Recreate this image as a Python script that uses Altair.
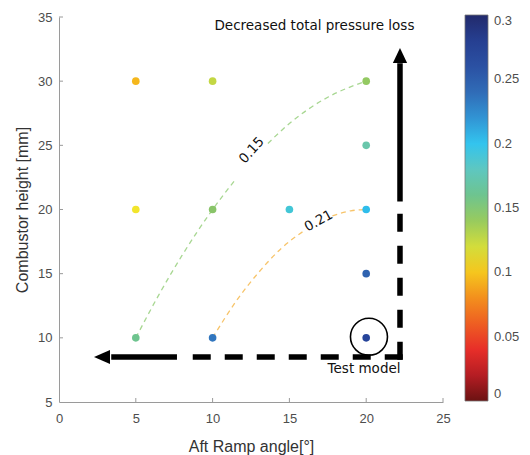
import altair as alt
import pandas as pd

# ---------------- data ----------------
angles = [5, 10, 20, 5, 10, 15, 20, 20, 5, 10, 20, 20]
heights = [30, 30, 30, 20, 20, 20, 20, 25, 10, 10, 15, 10]
loss = [0.095, 0.126, 0.142, 0.11, 0.146, 0.19, 0.203, 0.17, 0.16, 0.235, 0.245, 0.275]

# contour line 0.15 (two pieces, broken by its label)
c15_x = [5, 6.5, 8, 10, 11.4, 13.6, 15, 17.5, 20]
c15_y = [10, 13.35, 16.4, 20, 22.2, 25.15, 26.7, 28.75, 30]
c15_seg = [0, 0, 0, 0, 0, 1, 1, 1, 1]
# contour line 0.21
c21_x = [10, 11.5, 13, 14.5, 15.9, 17.8, 19, 20]
c21_y = [10, 12.8, 15.1, 17.0, 18.3, 19.5, 19.9, 20]
c21_seg = [0, 0, 0, 0, 0, 1, 1, 1]

contour_labels = ["0.15", "0.21"]
contour_lab_x = [12.55, 16.9]
contour_lab_y = [24.6, 19.1]
contour_lab_angle = [312, 331]

# arrows (annotation)
corner_x, corner_y = 22.2, 8.5
h_dash_end, h_solid_end, h_head = 7.68, 3.4, 2.8
v_dash_end, v_solid_end, v_head = 20.63, 31.4, 32.0

circle_x, circle_y = 20.18, 10.08

x_ticks = [0, 5, 10, 15, 20, 25]
y_ticks = [5, 10, 15, 20, 25, 30, 35]
cbar_values = [0, 0.05, 0.1, 0.15, 0.2, 0.25, 0.3]
# colorbar inner tick rows (the colorbar spans the same pixel height as the y axis)
cbar_tick_rows = [10, 15, 20, 25, 30]

cmap_stops = [0, 0.02, 0.035, 0.05, 0.07, 0.09, 0.11, 0.13, 0.15, 0.175, 0.2, 0.225, 0.25, 0.275, 0.3]
cmap_colors = ["#6b1212", "#b51d23", "#e4222a", "#ec4226", "#f07522", "#f4a81e", "#f2e52c",
               "#b8d348", "#80c070", "#6cc6b6", "#33c4ee", "#3688cc", "#2f5aa8", "#26449a", "#222a6c"]

FONT = "Liberation Sans"
ANN_FONT = "DejaVu Sans"

# ---------------- tables ----------------
pts = pd.DataFrame({"angle": angles, "height": heights, "loss": loss})
c15 = pd.DataFrame({"angle": c15_x, "height": c15_y, "seg": c15_seg})
c21 = pd.DataFrame({"angle": c21_x, "height": c21_y, "seg": c21_seg})
clab = pd.DataFrame({"angle": contour_lab_x, "height": contour_lab_y,
                     "txt": contour_labels, "rot": contour_lab_angle})

dashed = pd.DataFrame({
    "angle": [corner_x, h_dash_end, corner_x, corner_x],
    "height": [corner_y, corner_y, corner_y, v_dash_end],
    "seg": ["h", "h", "v", "v"],
    "ord": [0, 1, 0, 1],
})
solid = pd.DataFrame({
    "angle": [h_dash_end, h_solid_end, corner_x, corner_x],
    "height": [corner_y, corner_y, v_dash_end, v_solid_end],
    "seg": ["h", "h", "v", "v"],
    "ord": [0, 1, 0, 1],
})
heads = pd.DataFrame({
    "angle": [h_head, corner_x],
    "height": [corner_y, v_head],
    "shape": ["M-1,0L1,-0.875L1,0.875Z", "M0,-1L0.95,1L-0.95,1Z"],
    "sz": [256, 225],
})
circ = pd.DataFrame({"angle": [circle_x], "height": [circle_y]})
texts = pd.DataFrame({
    "angle": [16.63, 19.86],
    "height": [34.3, 7.55],
    "txt": ["Decreased total pressure loss", "Test model"],
})
xt = pd.DataFrame({"angle": x_ticks[1:]})
yt = pd.DataFrame({"height": y_ticks[1:]})
cbt = pd.DataFrame({"height": cbar_tick_rows})

xscale = alt.Scale(domain=[0, 25], nice=False)
yscale = alt.Scale(domain=[5, 35], nice=False)

X = alt.X("angle:Q", scale=xscale,
          axis=alt.Axis(values=x_ticks, title="Aft Ramp angle[°]", grid=False, ticks=False,
                        labelFlush=False, labelPadding=10, titlePadding=13, format="d"))
Y = alt.Y("height:Q", scale=yscale,
          axis=alt.Axis(values=y_ticks, title="Combustor height [mm]", grid=False, ticks=False,
                        labelFlush=False, labelPadding=7, titlePadding=7, format="d"))
Xs = alt.X("angle:Q", scale=xscale)
Ys = alt.Y("height:Q", scale=yscale)

base_pts = alt.Chart(pts).mark_circle(size=58, opacity=1).encode(
    x=X, y=Y,
    color=alt.Color("loss:Q",
                    scale=alt.Scale(domain=cmap_stops, range=cmap_colors),
                    legend=alt.Legend(orient="none", legendX=406, legendY=-2, direction="vertical",
                                      gradientLength=386, gradientThickness=23,
                                      gradientStrokeColor="#777", gradientStrokeWidth=0.8,
                                      values=cbar_values, format="~g", labelOverlap=False,
                                      labelFont=FONT, labelFontSize=13, labelColor="#4d4d4d",
                                      labelOffset=6, labelBaseline="middle", title=None)),
)

line15 = alt.Chart(c15).mark_line(color="#a8d792", strokeWidth=1.3, strokeDash=[5, 4],
                                  interpolate="monotone").encode(x=Xs, y=Ys, detail="seg:N")
line21 = alt.Chart(c21).mark_line(color="#f7c46a", strokeWidth=1.3, strokeDash=[5, 4],
                                  interpolate="monotone").encode(x=Xs, y=Ys, detail="seg:N")
clabels = alt.Chart(clab).mark_text(font=ANN_FONT, fontSize=13.5, color="#111").encode(
    x=Xs, y=Ys, text="txt:N", angle=alt.Angle("rot:Q", scale=None))

xticks = alt.Chart(xt).mark_rule(color="#9a9a9a", strokeWidth=1).encode(
    x=Xs, y=alt.value(385), y2=alt.value(381))
yticks = alt.Chart(yt).mark_rule(color="#9a9a9a", strokeWidth=1).encode(
    y=Ys, x=alt.value(0), x2=alt.value(4))
cbticks = alt.Chart(cbt).mark_rule(color="#333333", strokeWidth=1).encode(
    y=Ys, x=alt.value(425), x2=alt.value(429))

dash_lines = alt.Chart(dashed).mark_line(color="black", strokeWidth=5.5, strokeDash=[12.5, 19.5],
                                         strokeCap="square").encode(
    x=Xs, y=Ys, detail="seg:N", order="ord:Q")
solid_lines = alt.Chart(solid).mark_line(color="black", strokeWidth=5.5).encode(
    x=Xs, y=Ys, detail="seg:N", order="ord:Q")
arrow_heads = alt.Chart(heads).mark_point(filled=True, color="black", opacity=1, strokeWidth=0).encode(
    x=Xs, y=Ys, shape=alt.Shape("shape:N", scale=None), size=alt.Size("sz:Q", scale=None))
circle = alt.Chart(circ).mark_point(shape="circle", size=1370, filled=False, color="black",
                                    strokeWidth=1.6, opacity=1).encode(x=Xs, y=Ys)
ann = alt.Chart(texts).mark_text(font=ANN_FONT, fontSize=13.5, color="#111").encode(
    x=Xs, y=Ys, text="txt:N")

chart = alt.layer(
    line15, line21, clabels, xticks, yticks, base_pts, cbticks, circle,
    dash_lines, solid_lines, arrow_heads, ann
).properties(
    width=384, height=385,
    autosize=alt.AutoSizeParams(type="none"),
    padding={"left": 51, "top": 9, "right": 79, "bottom": 53},
).configure_view(strokeWidth=0).configure_axis(
    labelFont=FONT, labelFontSize=13, labelColor="#4d4d4d",
    titleFont=FONT, titleFontSize=16, titleColor="#333333", titleFontWeight="normal",
    domainColor="#9a9a9a", domainWidth=1,
)

chart.save("out.html", embed_options={"renderer": "svg", "actions": False})
